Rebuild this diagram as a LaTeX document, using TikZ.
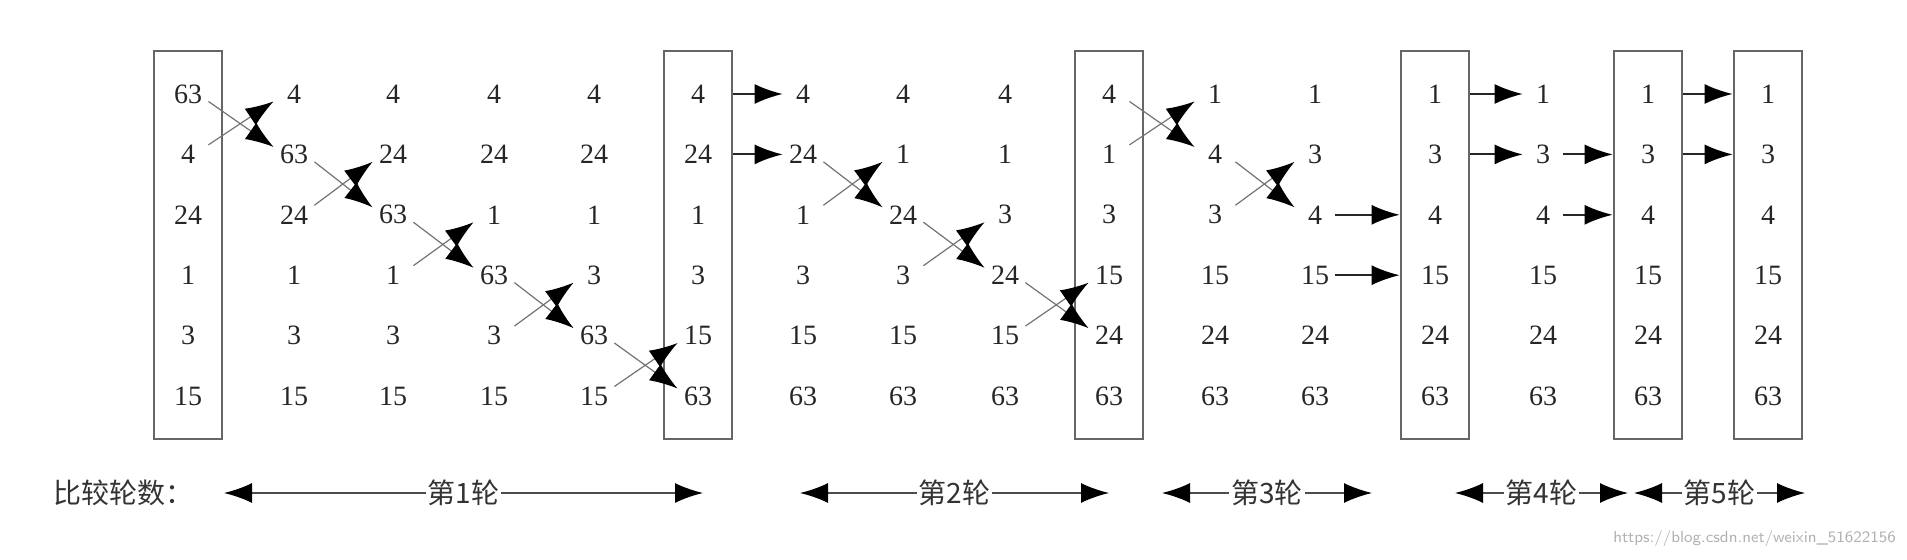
\documentclass[tikz,border=0pt]{standalone}
\usepackage{fontspec}
\setmainfont{Liberation Serif}
\newfontfamily\cjk{Noto Sans CJK SC}
\usetikzlibrary{positioning, arrows.meta, fit, calc}

\begin{document}
\begin{tikzpicture}[
        x=0.5pt, y=-0.5pt,
        >={Latex[length=14pt, width=10pt, color=black]},
        num/.style={minimum width=20pt, minimum height=14pt, inner sep=0pt, text=black!85, font=\fontsize{14}{16}\selectfont},
        box/.style={draw=black!60, line width=1pt, inner xsep=7pt, inner ysep=14.5pt},
        swap/.style={->, draw=black!55, line width=0.6pt},
        push/.style={->, draw=black!85, line width=0.9pt},
        round/.style={<->, draw=black!70, line width=0.8pt},
        tag/.style={fill=white, inner xsep=1pt, inner ysep=2pt, text=black!80, font=\cjk\fontsize{14}{16}\selectfont},
    ]
    \useasboundingbox (0,0) rectangle (1907,560);

        % Draw the number columns
        \foreach \col/\x/\vals in {
                0/188/{63,4,24,1,3,15}, 1/294/{4,63,24,1,3,15}, 2/393/{4,24,63,1,3,15},
                3/494/{4,24,1,63,3,15}, 4/594/{4,24,1,3,63,15}, 5/698/{4,24,1,3,15,63},
                6/803/{4,24,1,3,15,63}, 7/903/{4,1,24,3,15,63}, 8/1005/{4,1,3,24,15,63},
                9/1109/{4,1,3,15,24,63}, 10/1215/{1,4,3,15,24,63}, 11/1315/{1,3,4,15,24,63},
                12/1435/{1,3,4,15,24,63}, 13/1543/{1,3,4,15,24,63}, 14/1648/{1,3,4,15,24,63},
                15/1768/{1,3,4,15,24,63}}
            \foreach \v [count=\row] in \vals
                \node[num] (c\col-\row) at (\x, {94+60.4*(\row-1)}) {\v};

        % Frame the columns that close a round
        \foreach \col in {0,5,9,12,14,15}
            \node[box, fit=(c\col-1)(c\col-6)] (box\col) {};

        % Swaps of two neighbours
        \foreach \a/\b/\r in {0/1/1, 1/2/2, 2/3/3, 3/4/4, 4/5/5, 6/7/2, 7/8/3, 8/9/4, 9/10/1, 10/11/2} {
            \pgfmathtruncatemacro{\s}{\r+1}
            \draw[swap] (c\a-\r.-20) -- (c\b-\s.160);
            \draw[swap] (c\a-\s.25) -- (c\b-\r.200);
        }

        % Values carried over unchanged
        \foreach \r in {1,2}
            \draw[push] (c6-\r -| box5.east) -- (c6-\r.west);
        \foreach \r in {3,4}
            \draw[push] (c11-\r.east) -- (c11-\r -| box12.west);
        \foreach \r in {1,2}
            \draw[push] (c13-\r -| box12.east) -- (c13-\r.west);
        \foreach \r in {2,3}
            \draw[push] (c13-\r.east) -- (c13-\r -| box14.west);
        \foreach \r in {1,2}
            \draw[push] (c14-\r -| box14.east) -- (c14-\r -| box15.west);

        % Rounds along the bottom
        \node[tag, fill=none] (legend) at (124,493) {比较轮数：};
        \foreach \n/\l/\r in {1/224/703, 2/800/1109, 3/1162/1372, 4/1455/1628, 5/1634/1805} {
            \coordinate (r\n-l) at (\l,493);
            \coordinate (r\n-r) at (\r,493);
            \draw[round] (r\n-l) -- node[tag] (t\n) {第\n 轮} (r\n-r);
        }

        \node[anchor=east, text=black!30, font=\fontsize{8}{9}\selectfont\sffamily] (wm) at (1903,539) {https://blog.csdn.net/weixin\_51622156};
    \end{tikzpicture}
\end{document}
